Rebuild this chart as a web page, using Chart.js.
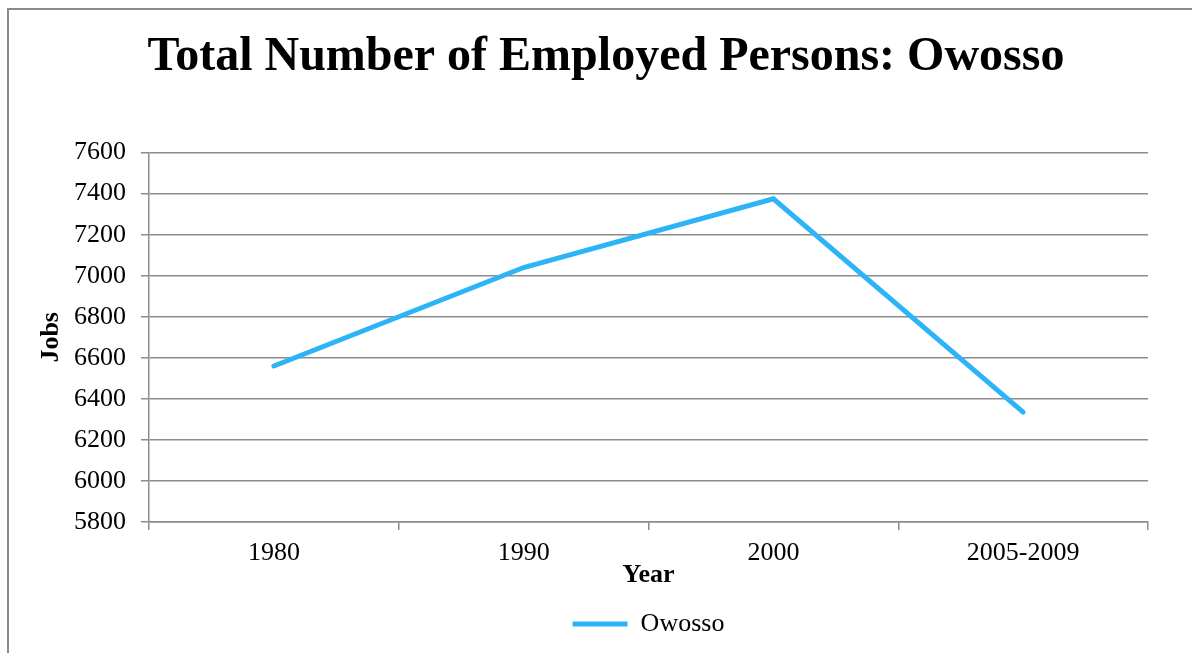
<!DOCTYPE html>
<html>
<head>
<meta charset="utf-8">
<script src="https://cdn.jsdelivr.net/npm/chart.js@4"></script>
<style>
  html, body { margin: 0; padding: 0; background: #fff; overflow: hidden; }
  #frame {
    position: absolute; left: 7px; top: 8px;
    width: 1300px; height: 800px;
    border: 2px solid #8a8a8a;
  }
  #wrap { position: absolute; left: 0; top: 0; width: 1192px; height: 653px; }
</style>
</head>
<body>
<div id="frame"></div>
<div id="wrap"><canvas id="jobsChart" width="1192" height="653"></canvas></div>
<script>
// values
const years = ['1980', '1990', '2000', '2005-2009'];
const owossoJobs = [6560, 7040, 7375, 6335];
const yTickValues = [5800, 6000, 6200, 6400, 6600, 6800, 7000, 7200, 7400, 7600];

const lineBlue = '#2db4f6';
const gridGray = '#8c8c8c';
const serif = '"Liberation Serif", "Times New Roman", serif';

document.addEventListener('DOMContentLoaded', function() {
    const ctx = document.getElementById('jobsChart');

    new Chart(ctx, {
        type: 'line',
        data: {
            labels: years,
            datasets: [{
                label: 'Owosso',
                data: owossoJobs,
                borderColor: lineBlue,
                backgroundColor: lineBlue,
                borderWidth: 5,
                borderCapStyle: 'round',
                borderJoinStyle: 'miter',
                pointRadius: 0,
                pointHoverRadius: 0,
                pointStyle: 'line',
                tension: 0,
                fill: false
            }]
        },
        options: {
            responsive: false,
            animation: false,
            devicePixelRatio: 1,
            layout: {
                // left padding bigger so the title centres where the original does
                padding: { top: 0, left: 64, right: 44, bottom: 6 }
            },
            plugins: {
                title: {
                    display: true,
                    text: 'Total Number of Employed Persons: Owosso',
                    color: '#000',
                    font: { family: serif, size: 48, weight: 'bold' },
                    padding: { top: 29, bottom: 66 }
                },
                legend: {
                    display: true,
                    position: 'bottom',
                    fullSize: false,
                    labels: {
                        color: '#000',
                        font: { family: serif, size: 26 },
                        usePointStyle: true,
                        pointStyleWidth: 55,
                        boxWidth: 55,
                        boxHeight: 5,
                        padding: 10
                    }
                },
                tooltip: { enabled: false }
            },
            scales: {
                x: {
                    offset: true,
                    grid: {
                        display: true,
                        offset: true,
                        drawOnChartArea: false,
                        drawTicks: true,
                        tickLength: 8,
                        color: gridGray,
                        lineWidth: 1.5
                    },
                    border: { display: true, color: gridGray, width: 1.5 },
                    ticks: {
                        color: '#000',
                        font: { family: serif, size: 26 },
                        padding: 8,
                        maxRotation: 0,
                        autoSkip: false
                    },
                    title: {
                        display: true,
                        text: 'Year',
                        color: '#000',
                        font: { family: serif, size: 26, weight: 'bold' },
                        padding: { top: 0, bottom: 10 }
                    },
                    afterFit: function(scale) {
                        scale.height = 79;
                    }
                },
                y: {
                    min: 5800,
                    max: 7600,
                    afterBuildTicks: function(scale) {
                        scale.ticks = yTickValues.map(v => ({ value: v }));
                    },
                    grid: {
                        color: gridGray,
                        lineWidth: 1.5,
                        drawTicks: true,
                        tickLength: 8
                    },
                    border: { display: true, color: gridGray, width: 1.5 },
                    ticks: {
                        color: '#000',
                        font: { family: serif, size: 26 },
                        padding: 15,
                        callback: function(value) {
                            return String(value);
                        }
                    },
                    title: {
                        display: true,
                        text: 'Jobs',
                        color: '#000',
                        font: { family: serif, size: 26, weight: 'bold' },
                        padding: { top: -28, bottom: 0 }
                    },
                    afterFit: function(scale) {
                        scale.width = 85;
                    }
                }
            }
        }
    });
});
</script>
</body>
</html>
